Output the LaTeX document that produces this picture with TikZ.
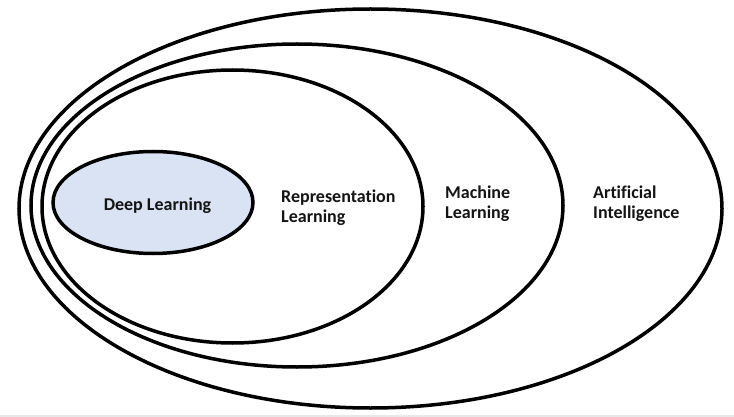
\documentclass[tikz,border=0pt]{standalone}
\usepackage{fontspec}
\setmainfont{Carlito}[Ligatures=NoCommon]
\definecolor{dlfill}{RGB}{218,227,243}
\definecolor{txt}{RGB}{20,20,20}
\begin{document}
\begin{tikzpicture}[x=1pt,y=-1pt,
  ring/.style={draw=black,line width=3.5pt},
  lbl/.style={font=\fontsize{18}{20}\selectfont\bfseries,text=txt,inner sep=0pt,align=left}]
\useasboundingbox (0,0) rectangle (734,417);
\fill[white] (0,0) rectangle (734,417);
\fill[gray!18] (0,414.5) rectangle (734,417);
\draw[ring] (370.5,208.5) ellipse [x radius=351.5, y radius=199.5];
\draw[ring] (297,205.5) ellipse [x radius=266, y radius=161.5];
\draw[ring] (232.5,206.5) ellipse [x radius=190.5, y radius=136.5];
\draw[ring,fill=dlfill] (153,202.5) ellipse [x radius=100, y radius=51];
\node[lbl] (dl) at (157.5,206) {Deep Learning};
\node[lbl,anchor=west] (rl) at (281,208) {Representation\\Learning};
\node[lbl,anchor=west] (ml) at (445,203.5) {Machine\\Learning};
\node[lbl,anchor=west] (ai) at (593,203.5) {Artificial\\Intelligence};
\end{tikzpicture}
\end{document}
